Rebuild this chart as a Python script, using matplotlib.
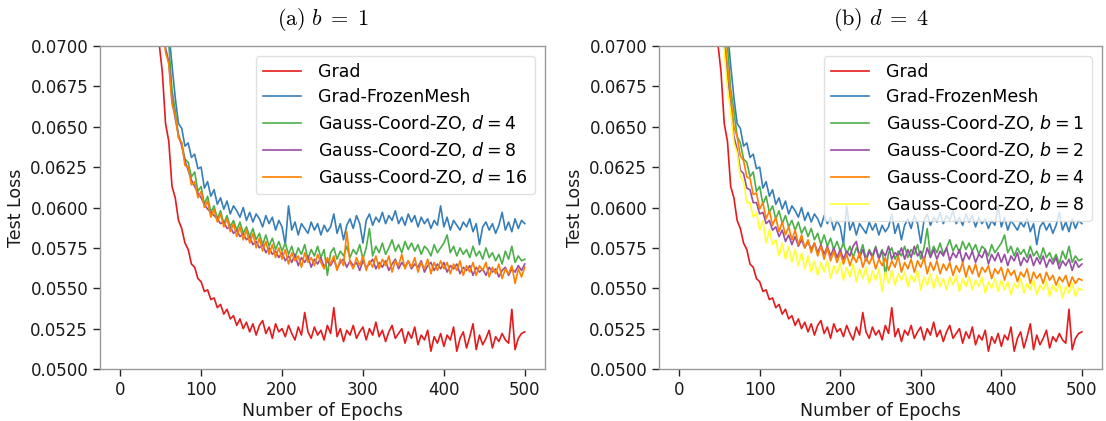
import numpy as np
import matplotlib
matplotlib.use("Agg")
import matplotlib.pyplot as plt

# ---------------- data (test loss sampled every 4 epochs, 40..500) ----------------
epochs = np.arange(40, 504, 4)

grad = [.0800, .0752, .0702, .0684, .0652, .0641, .0613, .0606, .0592, .0587,
        .0578, .0574, .0565, .0563, .0556, .0554, .0548, .0549, .0543, .0544,
        .0538, .0540, .0534, .0537, .0531, .0533, .0527, .0531, .0525, .0529,
        .0523, .0528, .0521, .0527, .0530, .0522, .0526, .0519, .0528, .0523,
        .0525, .0520, .0527, .0522, .0518, .0526, .0521, .0535, .0523, .0519,
        .0526, .0521, .0524, .0518, .0527, .0522, .0538, .0520, .0525, .0517,
        .0524, .0521, .0527, .0519, .0523, .0526, .0518, .0525, .0521, .0529,
        .0520, .0524, .0517, .0523, .0527, .0519, .0522, .0525, .0516, .0523,
        .0519, .0526, .0515, .0521, .0518, .0524, .0511, .0520, .0516, .0522,
        .0514, .0521, .0518, .0526, .0511, .0519, .0523, .0513, .0520, .0528,
        .0512, .0521, .0515, .0519, .0524, .0513, .0520, .0517, .0522, .0518,
        .0516, .0537, .0512, .0519, .0522, .0523]

grad_frozen = [.0860, .0828, .0791, .0758, .0736, .0710, .0688, .0668, .0652, .0649,
               .0638, .0640, .0631, .0633, .0624, .0625, .0612, .0616, .0607, .0611,
               .0602, .0606, .0599, .0604, .0596, .0601, .0598, .0594, .0600, .0592,
               .0597, .0591, .0596, .0593, .0588, .0595, .0590, .0594, .0586, .0592,
               .0588, .0577, .0601, .0586, .0591, .0583, .0590, .0587, .0584, .0591,
               .0586, .0590, .0583, .0589, .0585, .0588, .0596, .0584, .0590, .0580,
               .0589, .0593, .0587, .0595, .0590, .0578, .0592, .0596, .0589, .0594,
               .0591, .0597, .0590, .0595, .0592, .0598, .0590, .0594, .0589, .0596,
               .0591, .0595, .0588, .0594, .0590, .0593, .0587, .0592, .0589, .0601,
               .0588, .0594, .0586, .0592, .0589, .0586, .0591, .0588, .0593, .0585,
               .0590, .0577, .0588, .0591, .0586, .0590, .0584, .0589, .0597, .0586,
               .0591, .0585, .0593, .0587, .0592, .0590]

# Gauss-Coord-ZO, d = 4, b = 1 (same run in both panels)
zo_d4_b1 = [.0840, .0806, .0768, .0742, .0716, .0701, .0673, .0660, .0644, .0640,
            .0630, .0628, .0619, .0622, .0610, .0613, .0602, .0607, .0597, .0601,
            .0593, .0598, .0590, .0595, .0588, .0592, .0586, .0591, .0584, .0588,
            .0582, .0587, .0580, .0584, .0577, .0583, .0576, .0581, .0574, .0579,
            .0573, .0578, .0571, .0576, .0569, .0575, .0571, .0577, .0568, .0574,
            .0570, .0576, .0569, .0574, .0558, .0572, .0575, .0568, .0573, .0570,
            .0576, .0569, .0574, .0571, .0577, .0568, .0575, .0587, .0570, .0576,
            .0572, .0578, .0571, .0575, .0580, .0573, .0577, .0572, .0579, .0574,
            .0578, .0573, .0577, .0571, .0576, .0574, .0570, .0577, .0572, .0575,
            .0578, .0583, .0572, .0576, .0570, .0575, .0571, .0574, .0569, .0576,
            .0570, .0573, .0568, .0575, .0569, .0572, .0567, .0571, .0565, .0573,
            .0568, .0576, .0566, .0570, .0567, .0568]

# panel (a): b = 1
zo_d8 = [.0805, .0774, .0741, .0718, .0699, .0690, .0667, .0655, .0645, .0638,
         .0629, .0623, .0617, .0613, .0609, .0606, .0602, .0599, .0597, .0595,
         .0593, .0590, .0591, .0587, .0588, .0584, .0586, .0582, .0584, .0580,
         .0582, .0577, .0579, .0575, .0577, .0572, .0575, .0571, .0573, .0569,
         .0572, .0567, .0570, .0566, .0571, .0564, .0569, .0566, .0570, .0563,
         .0568, .0565, .0569, .0563, .0567, .0564, .0568, .0562, .0566, .0568,
         .0563, .0567, .0564, .0566, .0561, .0567, .0563, .0565, .0568, .0562,
         .0566, .0563, .0567, .0561, .0565, .0568, .0562, .0566, .0563, .0567,
         .0562, .0565, .0563, .0567, .0560, .0564, .0566, .0561, .0565, .0562,
         .0566, .0560, .0564, .0562, .0565, .0559, .0563, .0561, .0564, .0558,
         .0563, .0560, .0562, .0558, .0563, .0560, .0562, .0557, .0561, .0563,
         .0558, .0562, .0560, .0564, .0561, .0565]

zo_d16 = [.0800, .0771, .0738, .0716, .0696, .0689, .0664, .0657, .0643, .0640,
          .0626, .0625, .0614, .0616, .0606, .0610, .0600, .0604, .0594, .0599,
          .0591, .0596, .0588, .0593, .0585, .0590, .0582, .0588, .0580, .0586,
          .0578, .0584, .0575, .0581, .0573, .0579, .0571, .0577, .0569, .0575,
          .0568, .0574, .0565, .0572, .0567, .0570, .0563, .0572, .0566, .0569,
          .0564, .0571, .0566, .0562, .0569, .0565, .0570, .0561, .0568, .0564,
          .0585, .0566, .0562, .0569, .0564, .0570, .0561, .0567, .0563, .0570,
          .0562, .0568, .0564, .0570, .0560, .0567, .0564, .0571, .0562, .0567,
          .0563, .0569, .0560, .0566, .0562, .0568, .0559, .0566, .0561, .0567,
          .0562, .0566, .0559, .0565, .0561, .0567, .0558, .0564, .0560, .0566,
          .0558, .0564, .0561, .0566, .0557, .0563, .0559, .0565, .0556, .0562,
          .0559, .0564, .0553, .0562, .0557, .0563]

# panel (b): d = 4
zo_b2 = [.0830, .0794, .0761, .0728, .0706, .0681, .0664, .0644, .0636, .0623,
         .0621, .0612, .0611, .0603, .0603, .0596, .0597, .0590, .0592, .0586,
         .0588, .0582, .0586, .0579, .0583, .0577, .0582, .0576, .0580, .0575,
         .0579, .0574, .0578, .0572, .0577, .0571, .0576, .0570, .0575, .0569,
         .0574, .0568, .0573, .0570, .0576, .0579, .0569, .0574, .0567, .0573,
         .0569, .0575, .0568, .0573, .0570, .0576, .0568, .0572, .0570, .0575,
         .0568, .0574, .0569, .0576, .0570, .0573, .0567, .0575, .0569, .0574,
         .0568, .0573, .0570, .0575, .0567, .0572, .0569, .0574, .0566, .0572,
         .0568, .0573, .0566, .0571, .0569, .0574, .0565, .0571, .0567, .0572,
         .0566, .0571, .0564, .0570, .0567, .0572, .0564, .0569, .0566, .0571,
         .0564, .0569, .0565, .0570, .0563, .0568, .0565, .0569, .0562, .0567,
         .0564, .0568, .0561, .0567, .0563, .0565]

zo_b4 = [.0820, .0789, .0756, .0723, .0709, .0688, .0669, .0650, .0644, .0632,
         .0629, .0619, .0618, .0608, .0609, .0599, .0603, .0593, .0598, .0589,
         .0594, .0585, .0591, .0583, .0588, .0580, .0586, .0577, .0583, .0575,
         .0580, .0572, .0578, .0570, .0576, .0568, .0575, .0567, .0573, .0566,
         .0572, .0565, .0571, .0564, .0570, .0566, .0572, .0563, .0569, .0565,
         .0570, .0562, .0568, .0564, .0569, .0561, .0567, .0563, .0570, .0560,
         .0566, .0562, .0568, .0560, .0567, .0563, .0569, .0559, .0566, .0561,
         .0567, .0559, .0565, .0561, .0566, .0558, .0564, .0560, .0566, .0557,
         .0564, .0559, .0565, .0557, .0563, .0560, .0564, .0556, .0562, .0559,
         .0563, .0555, .0562, .0558, .0561, .0554, .0560, .0557, .0562, .0553,
         .0560, .0556, .0559, .0553, .0560, .0555, .0558, .0552, .0557, .0554,
         .0558, .0551, .0557, .0553, .0556, .0555]

zo_b8 = [.0800, .0769, .0741, .0713, .0696, .0674, .0659, .0640, .0634, .0619,
         .0616, .0603, .0603, .0594, .0597, .0586, .0592, .0578, .0586, .0577,
         .0580, .0570, .0578, .0568, .0576, .0566, .0574, .0564, .0572, .0562,
         .0570, .0560, .0567, .0558, .0566, .0560, .0567, .0556, .0564, .0559,
         .0566, .0555, .0563, .0557, .0565, .0554, .0562, .0556, .0563, .0553,
         .0561, .0555, .0562, .0548, .0560, .0553, .0561, .0552, .0559, .0555,
         .0560, .0551, .0558, .0554, .0561, .0549, .0557, .0552, .0559, .0550,
         .0558, .0551, .0556, .0549, .0557, .0552, .0558, .0548, .0556, .0551,
         .0557, .0549, .0555, .0551, .0557, .0547, .0554, .0550, .0556, .0548,
         .0555, .0549, .0554, .0546, .0553, .0550, .0556, .0547, .0553, .0549,
         .0555, .0546, .0552, .0549, .0554, .0545, .0552, .0548, .0553, .0544,
         .0551, .0547, .0553, .0545, .0550, .0549]

labels_a = ["Grad", "Grad-FrozenMesh", r"Gauss-Coord-ZO, $d=4$",
            r"Gauss-Coord-ZO, $d=8$", r"Gauss-Coord-ZO, $d=16$"]
labels_b = ["Grad", "Grad-FrozenMesh", r"Gauss-Coord-ZO, $b=1$",
            r"Gauss-Coord-ZO, $b=2$", r"Gauss-Coord-ZO, $b=4$",
            r"Gauss-Coord-ZO, $b=8$"]
titles = [r"$\mathrm{(a)}\ b\;=\;1$", r"$\mathrm{(b)}\ d\;=\;4$"]
yticks = [0.0500, 0.0525, 0.0550, 0.0575, 0.0600, 0.0625, 0.0650, 0.0675, 0.0700]
xticks = [0, 100, 200, 300, 400, 500]

colors_a = ["#e41a1c", "#377eb8", "#4daf4a", "#984ea3", "#ff7f00"]
colors_b = ["#e41a1c", "#377eb8", "#4daf4a", "#984ea3", "#ff7f00", "#ffff33"]

for s in [grad, grad_frozen, zo_d4_b1, zo_d8, zo_d16, zo_b2, zo_b4, zo_b8]:
    assert len(s) == len(epochs), len(s)

# ---------------- figure ----------------
plt.rcParams["font.family"] = ["DejaVu Sans"]
W, H = 1106, 421
fig = plt.figure(figsize=(W / 100, H / 100), dpi=100)
ax1 = fig.add_axes([100 / W, 1 - 369 / H, 445 / W, 323 / H])
ax2 = fig.add_axes([659 / W, 1 - 369 / H, 443 / W, 323 / H])

series_a = [grad, grad_frozen, zo_d4_b1, zo_d8, zo_d16]
series_b = [grad, grad_frozen, zo_d4_b1, zo_b2, zo_b4, zo_b8]

for ax, series, labels, colors, title in [
        (ax1, series_a, labels_a, colors_a, titles[0]),
        (ax2, series_b, labels_b, colors_b, titles[1])]:
    for s, lab, c in zip(series, labels, colors):
        ax.plot(epochs, s, color=c, lw=1.2, label=lab)
    ax.set_xlim(-25, 525)
    ax.set_ylim(0.05, 0.07)
    ax.set_yticks(yticks)
    ax.set_yticklabels([f"{v:.4f}" for v in yticks])
    ax.set_xticks(xticks)
    ax.tick_params(axis="both", labelsize=12, direction="out", length=5,
                   width=1, color="0.15", labelcolor="0.1",
                   top=False, right=False)
    for sp in ax.spines.values():
        sp.set_color("0.6")
        sp.set_linewidth(1.0)
    ax.set_xlabel("Number of Epochs", fontsize=12.5, color="0.1", labelpad=2)
    ax.set_ylabel("Test Loss", fontsize=12.5, color="0.1", labelpad=4)
    ax.set_title(title, fontsize=16, math_fontfamily="cm", pad=15)
    leg = ax.legend(loc="upper right", fontsize=12.5, framealpha=0.8,
                    handlelength=2.2, handletextpad=1.0, labelspacing=0.4,
                    borderaxespad=0.6)
    leg.get_frame().set_edgecolor("0.85")

fig.savefig("out.png", dpi=100)
